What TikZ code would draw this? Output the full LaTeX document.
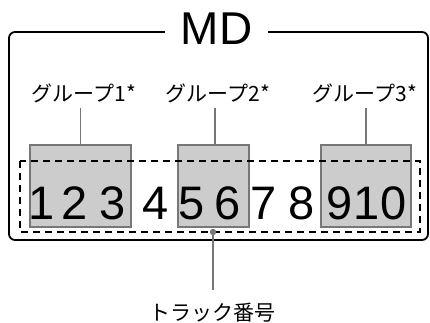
\documentclass[tikz,border=0pt]{standalone}
\usepackage{fontspec}
\setmainfont{Liberation Sans}
\newfontfamily\jpfont{Noto Sans CJK JP}
\definecolor{boxgray}{HTML}{CCCCCC}
\definecolor{edgegray}{HTML}{777777}
\begin{document}
\begin{tikzpicture}[x=1pt,y=-1pt,
  outerbox/.style={draw=black,line width=1.8pt,rounded corners=6pt},
  grpbox/.style={draw=edgegray,fill=boxgray,line width=1.8pt,inner sep=0pt,anchor=north west},
  dashbox/.style={draw=black,line width=1.3pt,dash pattern=on 7pt off 5pt},
  conn/.style={draw=edgegray,line width=1.8pt},
  digit/.style={font=\fontsize{47}{47}\selectfont,inner sep=0pt,anchor=base},
  grplabel/.style={font=\jpfont\fontsize{21}{21}\selectfont,inner sep=0pt,anchor=base,text depth=0pt},
  title/.style={font=\fontsize{46}{46}\selectfont,fill=white,inner xsep=16pt,inner ysep=1pt,anchor=base,text depth=0pt}
  ]
\useasboundingbox (0,0) rectangle (430,323);
% outer box
\draw[outerbox] (9,32) rectangle (428,240);
\node[title] (md) at (216.5,45) {MD};
% group boxes
\node[grpbox,minimum width=101pt,minimum height=82pt] (b1) at (29,144) {};
\node[grpbox,minimum width=71pt,minimum height=82pt] (b2) at (177,144) {};
\node[grpbox,minimum width=90pt,minimum height=82pt] (b3) at (320,144) {};
% dashed track area
\draw[dashbox] (20,161) rectangle (420,232);
% digits
\node[digit] (d1) at (42,219) {1};
\node[digit] (d2) at (75,219) {2};
\node[digit] (d3) at (113,219) {3};
\node[digit] (d4) at (156,219) {4};
\node[digit] (d5) at (192,219) {5};
\node[digit] (d6) at (228,219) {6};
\node[digit] (d7) at (264,219) {7};
\node[digit] (d8) at (302,219) {8};
\node[digit] (d9) at (340,219) {9};
\node[digit] (d10) at (380,219) {10};
% group labels
\node[grplabel] (l1) at (84,102) {グループ1*};
\node[grplabel] (l2) at (218,102) {グループ2*};
\node[grplabel] (l3) at (365,102) {グループ3*};
\draw[conn] (b1.north) -- ([yshift=-6pt]l1.south -| b1.north);
\draw[conn] ([xshift=1.5pt]b2.north) -- ([yshift=-6pt,xshift=1.5pt]l2.south -| b2.north);
\draw[conn] (b3.north) -- ([yshift=-6pt]l3.south -| b3.north);
% track number
\coordinate (tp) at (213,232);
\node[grplabel] (tn) at (212,320) {トラック番号};
\fill[edgegray] (tp) circle (3.2pt);
\draw[conn] (tp) -- ([yshift=12pt]tn.north -| tp);
\end{tikzpicture}
\end{document}
